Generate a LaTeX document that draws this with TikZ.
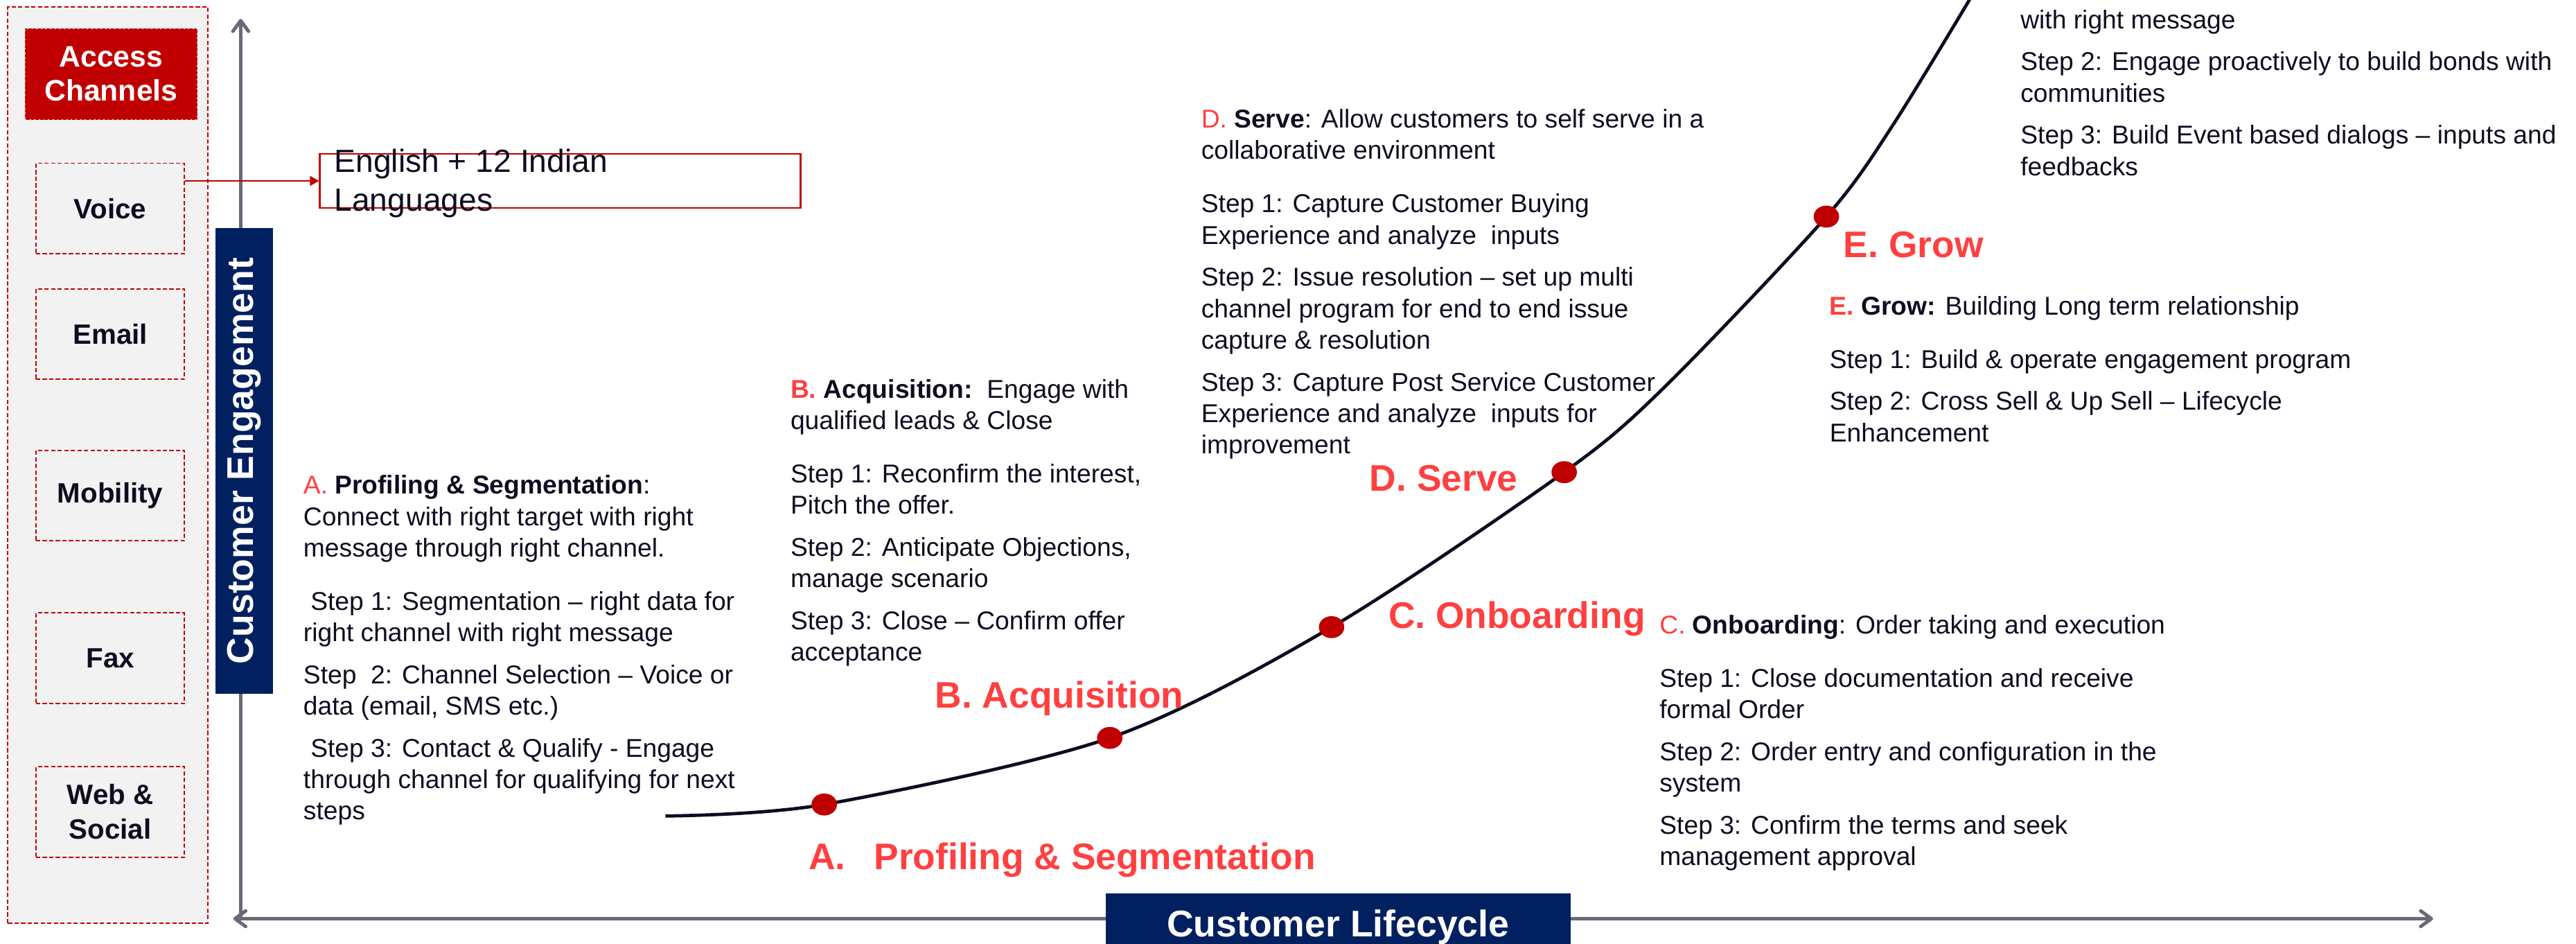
\documentclass[tikz,border=0pt]{standalone}
\usepackage{fontspec}
\setmainfont{Liberation Sans}
\usetikzlibrary{arrows.meta,shapes.geometric,positioning}
\definecolor{darkred}{RGB}{192,0,0}
\definecolor{labelred}{RGB}{255,64,64}
\definecolor{navy}{RGB}{0,32,96}
\definecolor{axisgray}{RGB}{105,106,118}
\definecolor{panelgray}{RGB}{242,242,242}
\definecolor{curveblack}{RGB}{13,13,33}

\begin{document}
\begin{tikzpicture}[x=1pt, y=-1pt, text=curveblack,
    panelbox/.style={draw=darkred, dash pattern=on 2.6pt off 1.4pt, line width=0.8pt, fill=panelgray},
    access/.style={fill=darkred, draw=white!85!black, dotted, line width=0.8pt, text=white,
      minimum width=104.8pt, minimum height=55.6pt, align=center,
      font=\bfseries\fontsize{18}{20.7}\selectfont},
    channel/.style={draw=darkred, dash pattern=on 2.6pt off 1.4pt, line width=0.8pt, fill=panelgray,
      minimum width=90.4pt, minimum height=55pt, align=center,
      font=\bfseries\fontsize{17}{21}\selectfont},
    navybox/.style={fill=navy, text=white, inner sep=0pt, font=\bfseries\fontsize{22.6}{26}\selectfont},
    axis/.style={draw=axisgray, line width=2.1pt},
    barb/.tip={Straight Barb[length=6.5pt,width=9.5pt,round]},
    block/.style={anchor=north west, inner sep=0pt, align=left, font=\fontsize{15.7}{19.1}\selectfont},
    stage/.style={anchor=base west, inner sep=0pt, text=labelred, font=\bfseries\fontsize{22.5}{26}\selectfont},
    stagedot/.style={ellipse, fill=darkred, inner sep=0pt, minimum width=15.5pt, minimum height=13.4pt},
    curve/.style={draw=curveblack, line width=2pt}]
  \useasboundingbox (0,0) rectangle (1568,574);

  \node[panelbox, minimum width=121.7pt, minimum height=557.5pt] (panel) at (65.65,282.85) {};
  \node[access] (channels) at (67.6,45.1) {Access\\Channels};
  \node[channel] (voice) at (67.1,126.8) {Voice};
  \node[channel] (email) at (67.1,203.2) {Email};
  \node[channel] (mobility) at (67.1,301.5) {Mobility};
  \node[channel] (fax) at (67.1,400.4) {Fax};
  \node[channel] (web) at (67.1,494) {Web \&\\Social};

  \coordinate (origin) at (146.5,559);
  \coordinate (ytop) at (146.5,11.5);
  \coordinate (xleft) at (142,559);
  \coordinate (xright) at (1481,559);
  \draw[axis,-barb] (origin) -- (ytop);
  \draw[axis,barb-barb] (xleft) -- (xright);

  \node[navybox, minimum width=283.2pt, minimum height=35pt, rotate=90] (engagement) at (148.8,280.4) {Customer Engagement};
  \node[navybox, minimum width=283pt, minimum height=40.8pt] (lifecycle) at (814.5,564.1) {Customer Lifecycle};

  \node[draw=darkred, line width=0.9pt, inner sep=0pt, minimum width=292.7pt, minimum height=32.9pt] (languages) at (340.95,110.05) {};
  \node[anchor=north west, inner sep=0pt, align=left, font=\fontsize{19.5}{23.6}\selectfont] (languagetext) at (203.3,90.3) {English + 12 Indian\\Languages};
  \draw[darkred, line width=0.9pt, -{Triangle[length=5.5pt,width=6pt]}] (voice.east |- languages.west) -- (languages.west);

  \coordinate (start) at (405,496.5);
  \coordinate (pA) at (501.7,489.5);
  \coordinate (pB) at (675.5,449);
  \coordinate (pC) at (810.5,381.6);
  \coordinate (pD) at (952.1,287.3);
  \coordinate (pDE) at (1012.9,235.8);
  \coordinate (pE) at (1111.7,131.8);
  \coordinate (pTop) at (1152.7,75.3);
  \coordinate (exit) at (1204.7,-10);
  \draw[curve] plot[smooth] coordinates {(start) (pA) (pB) (pC) (pD) (pDE) (pE) (pTop) (exit)};
  \node[stagedot] (dotA) at (pA) {};
  \node[stagedot] (dotB) at (pB) {};
  \node[stagedot] (dotC) at (pC) {};
  \node[stagedot] (dotD) at (pD) {};
  \node[stagedot] (dotE) at (pE) {};

  \node[stage] (stageA) at (492,529.1) {A.\hspace{0.77em}Profiling \& Segmentation};
  \node[stage] (stageB) at (569,430.9) {B. Acquisition};
  \node[stage] (stageC) at (845,382.1) {C. Onboarding};
  \node[stage] (stageD) at (833.5,298.9) {D. Serve};
  \node[stage] (stageE) at (1122,156.8) {E. Grow};

  \node[block] (profiling) at (184.5,289) {\textcolor{labelred}{A.} \textbf{Profiling \& Segmentation}:\\
    Connect with right target with right\\
    message through right channel.\\[13.3pt]
    \ Step 1: Segmentation – right data for\\
    right channel with right message\\[6.5pt]
    Step\ \ 2: Channel Selection – Voice or\\
    data (email, SMS etc.)\\[6.5pt]
    \ Step 3: Contact \& Qualify - Engage\\
    through channel for qualifying for next\\
    steps};
  \node[block] (acquisition) at (481,230.5) {\textcolor{labelred}{\textbf{B.}} \textbf{Acquisition:}\ \ Engage with\\
    qualified leads \& Close\\[13.3pt]
    Step 1: Reconfirm the interest,\\
    Pitch the offer.\\[6.5pt]
    Step 2: Anticipate Objections,\\
    manage scenario\\[6.5pt]
    Step 3: Close – Confirm offer\\
    acceptance};
  \node[block] (serve) at (731,66.3) {\textcolor{labelred}{D.} \textbf{Serve}: Allow customers to self serve in a\\
    collaborative environment\\[13.3pt]
    Step 1: Capture Customer Buying\\
    Experience and analyze\ \ inputs\\[6.5pt]
    Step 2: Issue resolution – set up multi\\
    channel program for end to end issue\\
    capture \& resolution\\[6.5pt]
    Step 3: Capture Post Service Customer\\
    Experience and analyze\ \ inputs for\\
    improvement};
  \node[block] (onboarding) at (1010,374) {\textcolor{labelred}{C.} \textbf{Onboarding}: Order taking and execution\\[13.3pt]
    Step 1: Close documentation and receive\\
    formal Order\\[6.5pt]
    Step 2: Order entry and configuration in the\\
    system\\[6.5pt]
    Step 3: Confirm the terms and seek\\
    management approval};
  \node[block] (grow) at (1113.5,180) {\textcolor{labelred}{\textbf{E.}} \textbf{Grow:} Building Long term relationship\\[13.3pt]
    Step 1: Build \& operate engagement program\\[6.5pt]
    Step 2: Cross Sell \& Up Sell – Lifecycle\\
    Enhancement};
  \node[block] (community) at (1229.7,5.8) {with right message\\[6.5pt]
    Step 2: Engage proactively to build bonds with\\
    communities\\[6.5pt]
    Step 3: Build Event based dialogs – inputs and\\
    feedbacks};
\end{tikzpicture}
\end{document}
